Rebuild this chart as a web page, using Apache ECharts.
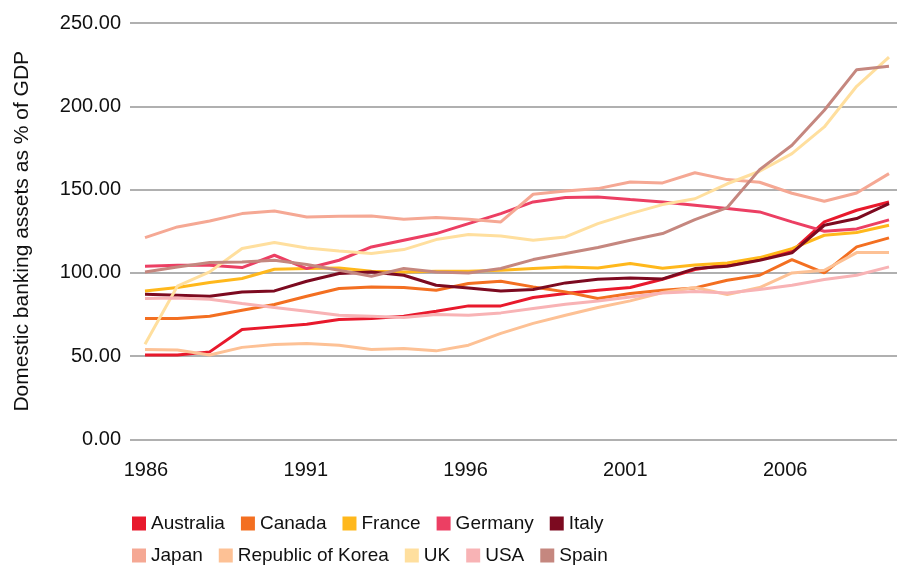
<!DOCTYPE html>
<html>
<head>
<meta charset="utf-8">
<script src="https://cdn.jsdelivr.net/npm/echarts@6/dist/echarts.min.js"></script>
<style>
  html, body { margin: 0; padding: 0; background: #fff; }
  #chart { width: 897px; height: 565px; }
</style>
</head>
<body>
<div id="chart"></div>
<script>
const years = ['1986', '1987', '1988', '1989', '1990', '1991', '1992', '1993', '1994', '1995', '1996', '1997',
  '1998', '1999', '2000', '2001', '2002', '2003', '2004', '2005', '2006', '2007', '2008', '2009']

const australia = [50.7, 50.7, 52.6, 66, 67.6, 69.2, 72, 72.6, 74, 77, 80.2, 80.2, 85.2, 87.6, 89.6, 91.2, 96.2, 102, 105, 108.6, 113, 130.6, 137.6, 142.6]
const canada = [72.6, 72.6, 74, 77.6, 81, 86, 90.6, 91.6, 91.2, 89.6, 93.6, 95, 91.6, 88.6, 84.6, 87.6, 89.6, 91, 95.6, 98.6, 108, 100, 115.6, 121]
const france = [89.2, 91.2, 94.2, 96.6, 102.2, 102.6, 103, 101, 100.6, 101, 101, 101.6, 102.6, 103.6, 103, 105.6, 102.8, 104.8, 106, 109.2, 114.6, 122.6, 124.2, 128.6]
const germany = [104, 104.6, 104.6, 103.2, 110.6, 102.6, 107.6, 115.6, 119.6, 123.6, 129.6, 135.6, 142.6, 145.2, 145.6, 144, 142.6, 140.6, 138.6, 136.6, 130.6, 125, 126.4, 131.8]
const italy = [87.2, 86.6, 86, 88.6, 89.2, 95, 99.6, 100.6, 98.6, 92.6, 91, 89.2, 90, 94, 96.2, 97, 96.4, 102.6, 104, 107.6, 112, 128.6, 132.6, 141.6]
const japan = [121.2, 127.6, 131.2, 135.6, 137.2, 133.6, 134, 134.2, 132.2, 133.2, 132.2, 130.6, 147.2, 149.2, 150.6, 154.6, 154, 160.1, 156, 154.4, 147.8, 143, 148, 159.6]
const korea = [54, 53.7, 50.7, 55.3, 57, 57.6, 56.6, 54, 54.6, 53.2, 56.6, 63.7, 69.7, 74.6, 79.2, 83.2, 88.2, 91.2, 87, 91.2, 100, 101.6, 112.2, 112.2]
const uk = [57.2, 92, 100.6, 114.6, 118.2, 115, 113.2, 111.6, 114, 120, 123, 122.2, 119.6, 121.6, 129.6, 135.6, 141, 144.5, 153.5, 161, 171.6, 187.6, 212, 229.5]
const usa = [84.6, 85, 84.2, 81.6, 79.2, 77, 74.6, 74, 73.2, 75, 74.6, 76, 78.6, 81.2, 83.2, 85.6, 88, 88.9, 88, 90, 92.6, 96, 98.6, 103.6]
const spain = [100.6, 103.6, 106.2, 106.6, 107.6, 105, 101.6, 98, 102.6, 100.6, 100, 102.6, 108, 111.6, 115.2, 119.6, 123.6, 132, 139.2, 162, 176.6, 197.6, 222, 224]

const FONT = 'Liberation Sans, Arial, Helvetica, sans-serif'

const series = [
  { name: 'Australia', data: australia, color: '#E8192C' },
  { name: 'Canada', data: canada, color: '#F36F21' },
  { name: 'France', data: france, color: '#FFB81C' },
  { name: 'Germany', data: germany, color: '#EC3F63' },
  { name: 'Italy', data: italy, color: '#7C0A20' },
  { name: 'Japan', data: japan, color: '#F5A894' },
  { name: 'Republic of Korea', data: korea, color: '#FDC195' },
  { name: 'UK', data: uk, color: '#FFDF9E' },
  { name: 'USA', data: usa, color: '#F8B3B5' },
  { name: 'Spain', data: spain, color: '#C5877F' }
]

const chart = echarts.init(document.getElementById('chart'), null, { renderer: 'canvas' })

const legendBase = {
  left: 127,
  icon: 'rect',
  itemWidth: 14,
  itemHeight: 14,
  itemGap: 16,
  textStyle: { fontFamily: FONT, fontSize: 19, color: '#111' }
}

chart.setOption({
  animation: false,
  legend: [
    Object.assign({}, legendBase, { top: 509, data: series.slice(0, 5).map(s => s.name) }),
    Object.assign({}, legendBase, { top: 541, data: series.slice(5).map(s => s.name) })
  ],
  // grid 0 carries the lines, grid 1 is only the frame: gridlines, tick labels, axis title
  grid: [
    { left: 145, right: 8, top: 23, bottom: 125.5 },
    { left: 130, right: -25, top: 23, bottom: 125.5 }
  ],
  xAxis: [
    {
      type: 'category', gridIndex: 0, data: years, boundaryGap: false,
      axisLine: { show: false }, axisTick: { show: false }, axisLabel: { show: false }
    },
    {
      type: 'category', gridIndex: 1, data: years, boundaryGap: true,
      axisLine: { show: false }, axisTick: { show: false },
      axisLabel: { interval: 4, margin: 21, color: '#111', fontFamily: FONT, fontSize: 20 }
    }
  ],
  yAxis: [
    { type: 'value', gridIndex: 0, min: 0, max: 250, show: false },
    {
      type: 'value', gridIndex: 1, min: 0, max: 250, interval: 50,
      name: 'Domestic banking assets as % of GDP',
      nameLocation: 'middle', nameGap: 97, nameRotate: 90,
      nameTextStyle: { fontFamily: FONT, fontSize: 21, color: '#111' },
      axisLine: { show: false }, axisTick: { show: false },
      axisLabel: { margin: 9, color: '#111', fontFamily: FONT, fontSize: 20, formatter: v => v.toFixed(2) },
      splitLine: { lineStyle: { color: '#969696', width: 1.6 } }
    }
  ],
  series: series.map(s => ({
    name: s.name,
    type: 'line',
    xAxisIndex: 0,
    yAxisIndex: 0,
    data: s.data,
    symbol: 'none',
    color: s.color,
    lineStyle: { width: 3, color: s.color }
  }))
})
</script>
</body>
</html>
